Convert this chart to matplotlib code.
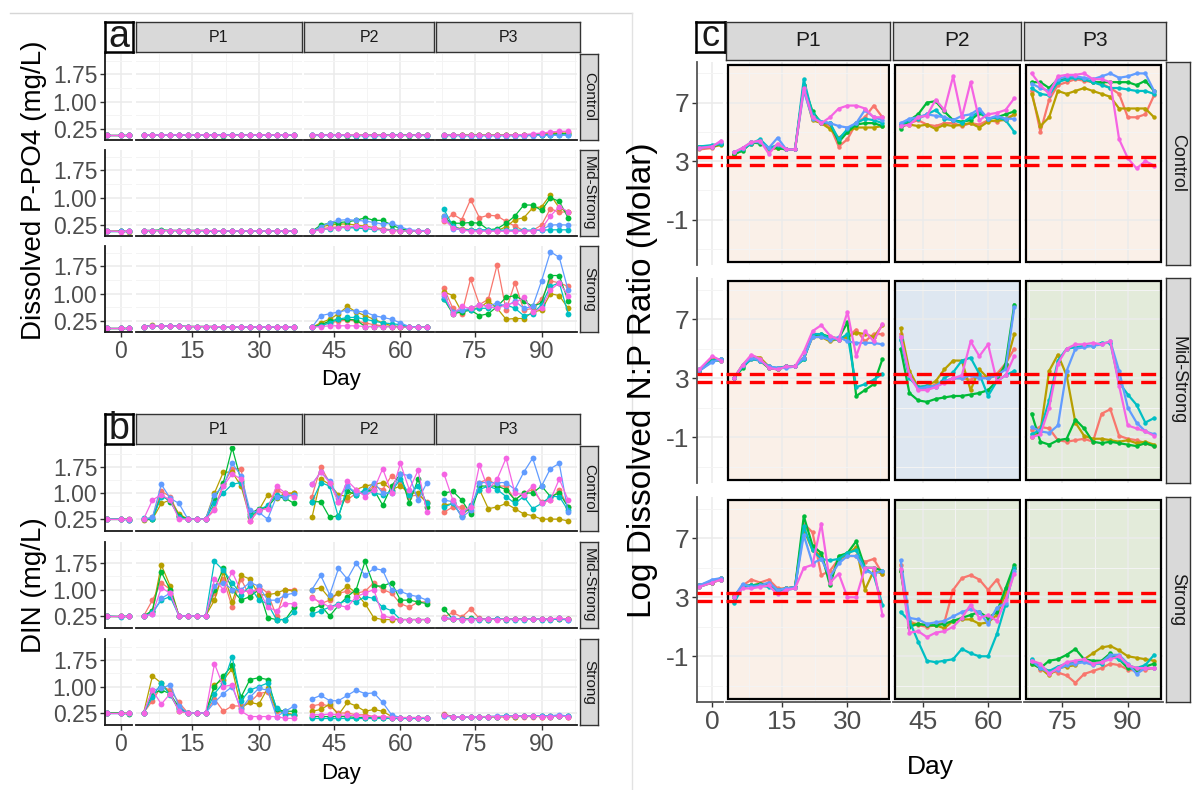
import numpy as np
import matplotlib
matplotlib.use("Agg")
import matplotlib.pyplot as plt
from matplotlib.patches import Rectangle
from matplotlib.lines import Line2D

plt.rcParams['font.family'] = ['Liberation Sans', 'DejaVu Sans']

W, H, DPI = 1192, 790, 100

# sampling days (pre | P1 | P2 | P3)
DAYS = [-3, 0, 2,
        4, 6, 8, 10, 12, 14, 16, 18, 20, 22, 24, 26, 28, 30, 32, 34, 36, 38,
        40, 42, 44, 46, 48, 50, 52, 54, 56, 58, 60, 62, 64, 66,
        68, 70, 72, 74, 76, 78, 80, 82, 84, 86, 88, 90, 92, 94, 96]
PERIODS = ["", "P1", "P2", "P3"]
PERIOD_BREAKS = [3, 39, 67]
PERIOD_LIMS = [(-3.5, 2.5), (2.2, 39.8), (38.2, 67.6), (66.2, 98.0)]
TREATMENTS = ["Control", "Mid-Strong", "Strong"]
COLORS = ["#F8766D", "#B79F00", "#00BA38", "#00BFC4", "#619CFF", "#F564E3"]

# ---- panel a: dissolved P-PO4 (mg/L), rows = red, olive, green, cyan, blue, magenta
PO4_CONTROL = [
    [0.09, 0.09, 0.09,
     0.09, 0.09, 0.09, 0.09, 0.09, 0.09, 0.09, 0.09, 0.09, 0.08, 0.08, 0.08, 0.09, 0.09, 0.09, 0.08, 0.09, 0.10,
     0.09, 0.09, 0.08, 0.08, 0.08, 0.08, 0.08, 0.08, 0.08, 0.08, 0.09, 0.09, 0.08, 0.08,
     0.07, 0.08, 0.08, 0.08, 0.08, 0.08, 0.08, 0.08, 0.08, 0.09, 0.10, 0.12, 0.15, 0.17, 0.18],
    [0.09, 0.09, 0.09,
     0.09, 0.09, 0.09, 0.09, 0.09, 0.09, 0.09, 0.09, 0.08, 0.08, 0.09, 0.09, 0.09, 0.09, 0.09, 0.09, 0.09, 0.09,
     0.07, 0.09, 0.09, 0.08, 0.08, 0.08, 0.08, 0.08, 0.08, 0.08, 0.08, 0.09, 0.09, 0.09,
     0.10, 0.08, 0.08, 0.08, 0.08, 0.08, 0.08, 0.08, 0.08, 0.08, 0.09, 0.10, 0.12, 0.13, 0.14],
    [0.09, 0.09, 0.09,
     0.09, 0.09, 0.09, 0.09, 0.09, 0.09, 0.09, 0.09, 0.08, 0.07, 0.08, 0.08, 0.08, 0.08, 0.08, 0.08, 0.09, 0.09,
     0.09, 0.09, 0.08, 0.08, 0.07, 0.07, 0.08, 0.08, 0.08, 0.08, 0.08, 0.07, 0.08, 0.08,
     0.08, 0.08, 0.08, 0.08, 0.08, 0.08, 0.08, 0.08, 0.08, 0.08, 0.08, 0.09, 0.10, 0.12, 0.12],
    [0.09, 0.09, 0.09,
     0.09, 0.09, 0.09, 0.09, 0.09, 0.09, 0.09, 0.09, 0.09, 0.08, 0.08, 0.08, 0.08, 0.08, 0.08, 0.08, 0.08, 0.09,
     0.08, 0.08, 0.08, 0.08, 0.08, 0.07, 0.07, 0.07, 0.07, 0.08, 0.08, 0.08, 0.08, 0.07,
     0.07, 0.07, 0.07, 0.07, 0.07, 0.07, 0.07, 0.07, 0.07, 0.07, 0.08, 0.08, 0.08, 0.09, 0.09],
    [0.09, 0.09, 0.09,
     0.09, 0.09, 0.09, 0.09, 0.09, 0.09, 0.09, 0.09, 0.09, 0.09, 0.09, 0.08, 0.08, 0.08, 0.08, 0.08, 0.09, 0.09,
     0.08, 0.08, 0.08, 0.08, 0.08, 0.08, 0.08, 0.08, 0.08, 0.08, 0.08, 0.08, 0.08, 0.08,
     0.08, 0.08, 0.07, 0.07, 0.07, 0.07, 0.07, 0.07, 0.07, 0.07, 0.07, 0.08, 0.08, 0.08, 0.08],
    [0.09, 0.09, 0.09,
     0.09, 0.09, 0.09, 0.09, 0.09, 0.09, 0.09, 0.09, 0.08, 0.08, 0.08, 0.08, 0.09, 0.09, 0.09, 0.09, 0.09, 0.09,
     0.09, 0.09, 0.09, 0.09, 0.09, 0.08, 0.08, 0.08, 0.08, 0.08, 0.08, 0.08, 0.09, 0.08,
     0.08, 0.09, 0.08, 0.08, 0.08, 0.08, 0.08, 0.08, 0.09, 0.10, 0.12, 0.14, 0.17, 0.19, 0.19],
]
PO4_MID = [
    [0.08, 0.09, 0.08,
     0.10, 0.10, 0.10, 0.10, 0.10, 0.10, 0.10, 0.10, 0.09, 0.09, 0.09, 0.09, 0.09, 0.09, 0.09, 0.09, 0.09, 0.09,
     0.08, 0.15, 0.18, 0.20, 0.20, 0.20, 0.20, 0.18, 0.15, 0.12, 0.10, 0.09, 0.08, 0.08,
     0.35, 0.55, 0.40, 0.95, 0.45, 0.52, 0.50, 0.35, 0.22, 0.10, 0.10, 0.25, 0.70, 0.60, 0.62],
    [0.08, 0.08, 0.07,
     0.09, 0.10, 0.10, 0.10, 0.10, 0.10, 0.10, 0.10, 0.09, 0.09, 0.09, 0.09, 0.10, 0.09, 0.09, 0.09, 0.09, 0.09,
     0.08, 0.20, 0.25, 0.28, 0.28, 0.25, 0.22, 0.18, 0.12, 0.10, 0.10, 0.09, 0.09, 0.09,
     0.50, 0.20, 0.15, 0.12, 0.10, 0.10, 0.10, 0.20, 0.40, 0.45, 0.72, 0.75, 1.08, 0.72, 0.60],
    [0.08, 0.08, 0.08,
     0.10, 0.10, 0.12, 0.10, 0.10, 0.10, 0.10, 0.10, 0.09, 0.09, 0.09, 0.09, 0.09, 0.09, 0.10, 0.09, 0.09, 0.09,
     0.08, 0.25, 0.30, 0.32, 0.34, 0.38, 0.45, 0.38, 0.38, 0.25, 0.15, 0.10, 0.09, 0.09,
     0.45, 0.30, 0.30, 0.32, 0.30, 0.12, 0.15, 0.30, 0.50, 0.80, 0.80, 0.65, 1.00, 0.90, 0.45],
    [0.08, 0.08, 0.08,
     0.10, 0.10, 0.10, 0.10, 0.10, 0.10, 0.10, 0.10, 0.09, 0.09, 0.09, 0.09, 0.09, 0.09, 0.09, 0.09, 0.09, 0.09,
     0.08, 0.12, 0.15, 0.18, 0.18, 0.17, 0.15, 0.13, 0.12, 0.11, 0.10, 0.09, 0.09, 0.09,
     0.68, 0.22, 0.12, 0.12, 0.12, 0.12, 0.11, 0.11, 0.11, 0.11, 0.11, 0.11, 0.12, 0.12, 0.12],
    [0.08, 0.08, 0.08,
     0.10, 0.10, 0.10, 0.10, 0.10, 0.10, 0.10, 0.09, 0.09, 0.09, 0.09, 0.09, 0.09, 0.09, 0.09, 0.09, 0.09, 0.09,
     0.08, 0.20, 0.32, 0.38, 0.40, 0.38, 0.36, 0.32, 0.28, 0.30, 0.20, 0.12, 0.10, 0.10,
     0.50, 0.15, 0.12, 0.10, 0.10, 0.10, 0.09, 0.09, 0.09, 0.09, 0.10, 0.12, 0.25, 0.26, 0.25],
    [0.09, 0.07, 0.09,
     0.10, 0.10, 0.10, 0.10, 0.10, 0.10, 0.10, 0.10, 0.10, 0.09, 0.09, 0.09, 0.09, 0.09, 0.09, 0.09, 0.09, 0.09,
     0.08, 0.12, 0.16, 0.18, 0.20, 0.22, 0.20, 0.16, 0.12, 0.10, 0.09, 0.09, 0.08, 0.08,
     0.40, 0.18, 0.12, 0.08, 0.08, 0.08, 0.08, 0.08, 0.08, 0.08, 0.09, 0.15, 0.50, 0.75, 0.62],
]
PO4_STRONG = [
    [0.07, 0.07, 0.07,
     0.10, 0.12, 0.12, 0.11, 0.11, 0.10, 0.10, 0.10, 0.10, 0.09, 0.09, 0.09, 0.09, 0.09, 0.09, 0.09, 0.09, 0.09,
     0.08, 0.15, 0.20, 0.25, 0.28, 0.25, 0.20, 0.15, 0.12, 0.10, 0.09, 0.08, 0.08, 0.08,
     1.15, 0.60, 0.45, 1.40, 0.70, 0.85, 1.80, 0.55, 1.30, 0.55, 0.60, 0.85, 1.35, 1.30, 1.20],
    [0.07, 0.07, 0.07,
     0.10, 0.13, 0.12, 0.11, 0.11, 0.10, 0.10, 0.10, 0.10, 0.09, 0.09, 0.09, 0.09, 0.09, 0.09, 0.09, 0.09, 0.09,
     0.08, 0.20, 0.30, 0.45, 0.65, 0.50, 0.40, 0.30, 0.20, 0.12, 0.10, 0.09, 0.08, 0.08,
     1.05, 0.95, 0.50, 0.60, 0.60, 0.80, 0.60, 0.30, 0.32, 0.32, 0.50, 0.55, 1.00, 0.95, 0.60],
    [0.07, 0.07, 0.07,
     0.10, 0.12, 0.12, 0.11, 0.11, 0.10, 0.10, 0.10, 0.10, 0.09, 0.09, 0.09, 0.09, 0.09, 0.09, 0.09, 0.09, 0.09,
     0.08, 0.15, 0.25, 0.30, 0.30, 0.28, 0.10, 0.10, 0.10, 0.10, 0.10, 0.09, 0.08, 0.08,
     0.85, 0.45, 0.50, 0.55, 0.40, 0.45, 0.65, 0.90, 0.95, 0.80, 0.65, 0.75, 1.50, 1.50, 0.80],
    [0.07, 0.07, 0.07,
     0.10, 0.12, 0.12, 0.11, 0.11, 0.10, 0.10, 0.10, 0.10, 0.09, 0.09, 0.09, 0.09, 0.09, 0.09, 0.09, 0.09, 0.09,
     0.08, 0.12, 0.20, 0.30, 0.35, 0.35, 0.30, 0.25, 0.20, 0.18, 0.15, 0.10, 0.08, 0.08,
     0.85, 0.50, 0.55, 0.55, 0.60, 0.60, 0.65, 0.70, 0.60, 0.40, 0.45, 0.70, 1.20, 1.30, 0.45],
    [0.07, 0.07, 0.07,
     0.10, 0.12, 0.12, 0.11, 0.11, 0.10, 0.10, 0.10, 0.10, 0.09, 0.09, 0.09, 0.09, 0.09, 0.09, 0.09, 0.09, 0.09,
     0.08, 0.40, 0.45, 0.50, 0.55, 0.52, 0.50, 0.40, 0.35, 0.30, 0.20, 0.10, 0.08, 0.08,
     0.95, 0.50, 0.55, 0.60, 0.70, 0.65, 0.75, 0.65, 0.80, 0.60, 0.65, 1.35, 2.15, 2.00, 1.10],
    [0.07, 0.07, 0.07,
     0.10, 0.12, 0.12, 0.11, 0.11, 0.10, 0.10, 0.10, 0.10, 0.09, 0.09, 0.09, 0.09, 0.09, 0.09, 0.09, 0.09, 0.09,
     0.08, 0.10, 0.12, 0.12, 0.12, 0.12, 0.10, 0.10, 0.10, 0.09, 0.09, 0.08, 0.08, 0.08,
     1.00, 0.45, 0.65, 0.60, 0.70, 0.65, 0.60, 0.70, 0.75, 0.90, 0.50, 0.60, 1.10, 1.30, 0.95],
]

# ---- panel b: DIN (mg/L)
DIN_CONTROL = [
    [0.25, 0.26, 0.24,
     0.25, 0.30, 1.05, 0.90, 0.35, 0.25, 0.25, 0.25, 0.55, 1.25, 1.70, 1.70, 0.20, 0.50, 0.60, 1.10, 0.95, 1.00,
     0.90, 1.75, 1.30, 0.75, 0.80, 1.00, 1.00, 1.20, 1.10, 1.50, 1.30, 0.90, 0.95, 0.75,
     0.45, 0.60, 0.60, 0.45, 1.30, 1.40, 1.20, 1.20, 0.80, 1.00, 1.10, 0.75, 0.80, 1.10, 0.60],
    [0.25, 0.25, 0.24,
     0.22, 0.25, 0.70, 0.80, 0.40, 0.25, 0.25, 0.25, 1.00, 1.60, 1.60, 1.20, 0.30, 0.50, 0.95, 0.85, 1.00, 1.00,
     0.30, 1.40, 1.25, 0.95, 0.90, 1.10, 1.20, 1.25, 1.30, 1.10, 1.20, 1.00, 1.00, 0.70,
     0.65, 0.70, 0.35, 0.60, 1.10, 0.55, 0.60, 0.70, 0.55, 0.40, 0.35, 0.25, 0.25, 0.25, 0.20],
    [0.25, 0.25, 0.25,
     0.25, 0.25, 0.95, 0.75, 0.35, 0.25, 0.25, 0.25, 0.85, 1.30, 2.30, 1.35, 0.40, 0.55, 0.60, 0.90, 0.85, 0.70,
     0.75, 0.75, 0.30, 0.35, 1.05, 0.95, 1.05, 1.10, 0.65, 1.20, 1.55, 0.70, 1.40, 0.60,
     1.00, 1.05, 0.80, 0.40, 1.20, 1.20, 1.20, 1.10, 0.80, 1.00, 1.00, 1.20, 0.90, 1.00, 0.60],
    [0.25, 0.25, 0.24,
     0.28, 0.25, 0.90, 0.80, 0.30, 0.25, 0.25, 0.25, 0.70, 1.00, 1.25, 1.30, 0.35, 0.50, 0.65, 0.95, 0.90, 0.95,
     0.75, 1.30, 1.20, 0.30, 1.20, 0.95, 1.10, 1.00, 0.95, 1.05, 1.40, 0.95, 1.20, 0.70,
     0.60, 0.70, 0.35, 0.65, 1.10, 1.20, 1.10, 0.90, 0.70, 0.90, 0.55, 0.70, 0.90, 0.90, 0.50],
    [0.25, 0.25, 0.22,
     0.25, 0.30, 1.25, 0.85, 0.70, 0.25, 0.25, 0.25, 0.95, 1.20, 1.85, 1.50, 0.50, 0.45, 0.25, 0.90, 0.90, 0.95,
     1.25, 1.60, 1.35, 0.85, 1.20, 1.00, 1.00, 1.30, 1.00, 1.00, 1.55, 1.50, 0.80, 1.30,
     0.80, 0.75, 0.30, 0.50, 1.30, 1.30, 1.30, 1.30, 1.10, 1.60, 2.00, 1.20, 1.70, 1.85, 0.45],
    [0.25, 0.25, 0.25,
     0.25, 0.80, 0.95, 0.80, 0.25, 0.25, 0.25, 0.25, 0.50, 1.20, 1.55, 1.40, 0.20, 0.50, 0.55, 1.20, 1.00, 0.90,
     1.25, 1.60, 1.30, 0.75, 1.35, 1.10, 0.90, 1.10, 1.70, 1.00, 1.85, 1.10, 1.65, 0.45,
     1.55, 0.80, 0.45, 0.60, 1.80, 1.10, 1.40, 2.00, 1.00, 0.95, 1.20, 0.70, 0.80, 1.40, 0.80],
]
DIN_MID = [
    [0.25, 0.25, 0.25,
     0.25, 0.70, 1.20, 1.00, 0.25, 0.25, 0.25, 0.25, 0.90, 1.30, 0.50, 1.30, 0.80, 1.10, 0.90, 0.25, 1.00, 1.00,
     0.80, 0.60, 0.70, 0.90, 0.95, 0.90, 0.95, 1.20, 1.00, 0.90, 0.60, 0.50, 0.65, 0.65,
     0.22, 0.35, 0.22, 0.45, 0.18, 0.16, 0.16, 0.15, 0.16, 0.16, 0.16, 0.16, 0.16, 0.18, 0.16],
    [0.25, 0.25, 0.25,
     0.25, 0.40, 1.70, 1.10, 0.25, 0.25, 0.25, 0.25, 0.70, 1.50, 0.65, 1.40, 1.30, 0.85, 0.85, 0.90, 1.00, 0.95,
     1.00, 1.05, 0.75, 0.90, 1.10, 0.90, 0.60, 0.20, 0.15, 0.15, 0.15, 0.15, 0.15, 0.15,
     0.18, 0.16, 0.16, 0.16, 0.16, 0.15, 0.16, 0.16, 0.16, 0.16, 0.16, 0.16, 0.16, 0.16, 0.16],
    [0.25, 0.25, 0.25,
     0.25, 0.40, 1.50, 1.00, 0.25, 0.25, 0.25, 0.25, 1.00, 1.60, 1.00, 0.70, 0.80, 1.00, 0.20, 0.15, 0.15, 0.50,
     0.45, 0.55, 0.25, 0.55, 0.80, 1.00, 1.80, 1.10, 1.10, 1.20, 0.70, 0.70, 0.65, 0.60,
     0.45, 0.16, 0.16, 0.18, 0.16, 0.16, 0.16, 0.16, 0.16, 0.17, 0.16, 0.16, 0.16, 0.18, 0.16],
    [0.25, 0.23, 0.25,
     0.25, 0.35, 0.70, 0.80, 0.25, 0.25, 0.25, 0.25, 1.80, 1.55, 1.20, 0.85, 1.10, 0.70, 0.60, 0.15, 0.15, 0.35,
     0.30, 0.40, 0.50, 0.60, 0.70, 0.65, 0.80, 0.75, 0.50, 0.40, 0.15, 0.15, 0.15, 0.15,
     0.20, 0.16, 0.15, 0.15, 0.15, 0.15, 0.16, 0.15, 0.15, 0.15, 0.16, 0.15, 0.15, 0.16, 0.14],
    [0.25, 0.25, 0.25,
     0.25, 0.30, 0.75, 0.90, 0.25, 0.25, 0.25, 0.25, 1.10, 1.20, 1.00, 1.00, 1.20, 1.10, 0.70, 0.70, 0.85, 0.90,
     1.00, 1.40, 0.85, 1.60, 1.30, 1.75, 1.40, 1.60, 1.55, 1.00, 0.95, 0.85, 0.80, 0.70,
     0.20, 0.18, 0.16, 0.16, 0.16, 0.16, 0.16, 0.16, 0.16, 0.16, 0.17, 0.16, 0.16, 0.18, 0.15],
    [0.25, 0.25, 0.25,
     0.25, 0.30, 1.05, 0.90, 0.25, 0.25, 0.25, 0.25, 1.30, 1.00, 1.50, 0.95, 0.95, 1.00, 0.50, 0.40, 0.60, 0.60,
     0.75, 0.65, 0.50, 0.55, 0.50, 0.80, 0.90, 1.00, 0.25, 0.20, 0.15, 0.15, 0.15, 0.15,
     0.18, 0.16, 0.15, 0.15, 0.16, 0.16, 0.15, 0.16, 0.16, 0.16, 0.16, 0.16, 0.17, 0.19, 0.16],
]
DIN_STRONG = [
    [0.25, 0.25, 0.24,
     0.25, 0.60, 1.00, 0.90, 0.55, 0.25, 0.25, 0.25, 0.65, 0.30, 0.45, 0.45, 0.55, 0.80, 0.85, 0.30, 0.25, 0.20,
     0.45, 0.50, 0.45, 0.25, 0.25, 0.20, 0.20, 0.15, 0.15, 0.12, 0.12, 0.12, 0.12, 0.12,
     0.22, 0.15, 0.14, 0.14, 0.14, 0.14, 0.14, 0.15, 0.15, 0.15, 0.15, 0.15, 0.15, 0.16, 0.15],
    [0.25, 0.25, 0.24,
     0.25, 1.30, 1.10, 0.80, 0.30, 0.25, 0.25, 0.25, 1.05, 1.20, 1.50, 0.40, 0.55, 0.50, 0.95, 0.35, 0.25, 0.20,
     0.30, 0.35, 0.50, 0.20, 0.55, 0.45, 0.30, 0.35, 0.30, 0.15, 0.12, 0.12, 0.12, 0.12,
     0.18, 0.15, 0.14, 0.14, 0.14, 0.14, 0.15, 0.14, 0.15, 0.16, 0.16, 0.15, 0.16, 0.16, 0.15],
    [0.25, 0.25, 0.22,
     0.25, 0.80, 0.90, 0.80, 0.40, 0.25, 0.25, 0.25, 1.00, 1.30, 1.60, 0.70, 1.20, 1.25, 1.20, 0.35, 0.30, 0.30,
     0.15, 0.15, 0.15, 0.15, 0.15, 0.12, 0.12, 0.12, 0.12, 0.12, 0.12, 0.12, 0.12, 0.12,
     0.18, 0.15, 0.14, 0.14, 0.15, 0.15, 0.15, 0.16, 0.16, 0.16, 0.17, 0.16, 0.15, 0.16, 0.16],
    [0.25, 0.25, 0.25,
     0.25, 0.70, 1.10, 0.75, 0.35, 0.25, 0.25, 0.25, 0.80, 1.10, 1.85, 0.60, 0.90, 1.00, 1.10, 0.40, 0.20, 0.20,
     0.12, 0.12, 0.12, 0.12, 0.12, 0.12, 0.12, 0.12, 0.12, 0.12, 0.12, 0.12, 0.12, 0.12,
     0.16, 0.14, 0.14, 0.14, 0.14, 0.15, 0.15, 0.16, 0.16, 0.16, 0.16, 0.17, 0.16, 0.17, 0.16],
    [0.25, 0.25, 0.25,
     0.25, 0.90, 0.95, 1.05, 0.45, 0.25, 0.25, 0.25, 0.55, 0.80, 1.00, 0.35, 0.70, 0.95, 0.90, 0.15, 0.30, 0.45,
     0.65, 0.75, 0.60, 0.60, 0.75, 0.90, 0.80, 0.82, 0.55, 0.20, 0.12, 0.12, 0.12, 0.12,
     0.17, 0.14, 0.14, 0.14, 0.14, 0.15, 0.16, 0.16, 0.16, 0.17, 0.17, 0.16, 0.17, 0.20, 0.16],
    [0.25, 0.25, 0.25,
     0.25, 0.90, 0.50, 0.80, 0.30, 0.25, 0.25, 0.25, 1.65, 1.00, 1.05, 0.30, 0.15, 0.15, 0.15, 0.15, 0.10, 0.10,
     0.20, 0.20, 0.22, 0.20, 0.18, 0.18, 0.15, 0.15, 0.15, 0.12, 0.12, 0.12, 0.12, 0.12,
     0.20, 0.14, 0.14, 0.14, 0.14, 0.15, 0.15, 0.15, 0.16, 0.16, 0.16, 0.15, 0.15, 0.16, 0.15],
]

# ---- panel c: log dissolved N:P ratio (molar)
NP_CONTROL = [
    [3.8, 3.9, 4.2,
     3.5, 3.9, 4.2, 4.4, 3.8, 3.9, 3.8, 3.8, 8.2, 6.0, 5.6, 5.4, 4.0, 4.5, 5.6, 6.0, 6.8, 6.0,
     5.5, 5.6, 5.8, 5.5, 5.4, 5.6, 5.6, 5.4, 5.6, 5.5, 5.8, 5.7, 5.9, 6.2,
     7.8, 5.0, 7.2, 8.2, 8.4, 8.6, 8.5, 8.4, 8.3, 8.0, 7.6, 6.0, 6.0, 6.2, 7.5],
    [3.9, 4.0, 4.1,
     3.4, 3.8, 4.2, 4.3, 3.8, 3.9, 3.8, 3.8, 8.0, 5.8, 5.6, 5.2, 4.6, 5.0, 5.3, 5.3, 5.3, 5.4,
     5.4, 5.5, 5.4, 5.5, 5.2, 5.5, 5.4, 5.5, 5.6, 5.3, 5.7, 5.8, 5.8, 6.2,
     7.6, 5.4, 6.0, 7.8, 7.6, 7.8, 8.0, 7.8, 7.6, 7.4, 6.6, 6.6, 6.6, 6.6, 6.0],
    [4.0, 4.0, 4.2,
     3.5, 3.7, 4.3, 4.2, 3.9, 3.9, 3.8, 3.8, 8.2, 6.4, 5.6, 5.6, 4.3, 5.0, 5.5, 5.6, 5.6, 5.4,
     5.2, 5.8, 6.2, 7.0, 7.1, 6.4, 5.8, 5.7, 5.8, 6.3, 5.9, 6.0, 6.2, 6.4,
     8.4, 8.4, 8.0, 8.6, 8.6, 8.8, 8.6, 8.4, 8.4, 8.4, 8.4, 8.4, 8.2, 8.5, 7.8],
    [4.0, 4.1, 4.2,
     3.6, 3.8, 4.2, 4.5, 3.9, 4.1, 3.8, 3.8, 8.6, 6.2, 5.7, 5.6, 4.5, 5.2, 5.6, 5.9, 5.8, 5.6,
     5.5, 5.8, 5.9, 6.2, 6.5, 5.9, 5.8, 5.6, 6.0, 6.4, 5.9, 6.0, 5.8, 5.0,
     8.0, 7.6, 7.5, 8.4, 8.6, 8.7, 8.6, 8.4, 8.2, 8.0, 8.0, 7.9, 7.8, 7.8, 7.6],
    [3.9, 4.0, 4.3,
     3.6, 3.9, 4.3, 4.3, 3.9, 4.6, 3.8, 3.8, 7.8, 5.9, 5.7, 5.6, 5.4, 5.3, 5.6, 6.5, 6.0, 5.8,
     5.6, 5.9, 6.0, 6.2, 6.1, 6.0, 5.8, 6.1, 6.2, 6.6, 5.9, 6.1, 5.9, 5.9,
     8.3, 8.0, 7.8, 8.6, 8.8, 8.8, 8.7, 8.6, 8.8, 9.0, 8.7, 8.8, 9.0, 9.0, 7.8],
    [3.9, 4.0, 4.4,
     3.6, 3.9, 4.3, 4.4, 3.5, 4.2, 3.8, 3.8, 8.0, 6.0, 5.6, 6.0, 6.6, 6.8, 6.8, 6.6, 6.0, 6.0,
     5.4, 5.5, 6.0, 6.1, 7.2, 6.5, 8.8, 6.0, 8.4, 5.8, 6.2, 6.3, 6.5, 7.3,
     9.0, 8.2, 7.6, 8.8, 8.9, 8.9, 9.0, 8.6, 8.6, 8.4, 4.5, 3.2, 2.5, 3.0, 2.7],
]
NP_MID = [
    [3.5, 4.2, 4.3,
     3.0, 3.8, 4.3, 4.2, 3.7, 3.7, 3.8, 3.8, 4.4, 6.0, 5.9, 5.7, 5.6, 5.8, 6.3, 5.5, 6.0, 6.0,
     6.0, 3.2, 2.4, 2.3, 2.6, 2.8, 3.0, 3.0, 2.9, 3.2, 3.0, 3.3, 4.0, 5.0,
     -0.5, -0.3, -0.4, -1.2, -1.3, -1.2, -1.1, -1.3, 0.6, 0.9, -0.9, -1.1, -1.2, -1.4, -1.6],
    [3.5, 4.3, 4.3,
     3.0, 3.9, 4.5, 4.4, 3.8, 3.6, 3.8, 3.8, 4.4, 5.8, 5.8, 5.5, 5.7, 5.8, 6.1, 6.0, 5.8, 6.6,
     6.4, 3.5, 2.4, 2.5, 2.8, 3.6, 4.2, 4.2, 2.2, 3.6, 3.0, 3.2, 3.8, 6.0,
     -1.0, -0.6, 3.5, 4.6, 3.2, 0.0, -0.9, -1.1, -1.1, -1.2, -1.3, -1.2, -1.4, -1.3, -1.5],
    [3.5, 4.2, 4.2,
     3.0, 3.7, 4.4, 4.2, 3.7, 3.6, 3.8, 3.8, 4.3, 5.9, 6.0, 5.8, 5.7, 6.8, 1.8, 2.2, 2.6, 4.3,
     5.0, 2.0, 1.5, 1.4, 1.6, 1.7, 1.8, 1.8, 1.9, 2.0, 2.2, 2.8, 4.0, 8.0,
     0.6, -1.3, -1.5, -1.2, -1.1, 0.2, -0.4, -1.3, -1.4, -1.3, -1.4, -1.5, -1.6, -1.4, -1.6],
    [3.6, 4.2, 4.3,
     3.0, 3.8, 4.3, 4.2, 3.8, 3.7, 3.8, 3.8, 4.3, 6.0, 6.0, 5.7, 5.6, 6.0, 2.4, 2.6, 2.9, 3.3,
     5.6, 3.0, 2.4, 2.5, 2.4, 3.0, 3.4, 4.2, 4.4, 3.3, 1.8, 2.8, 3.2, 3.5,
     -0.8, -0.5, 1.5, 4.2, 5.0, 5.1, 5.2, 5.2, 5.4, 5.4, 2.7, 1.9, 1.2, 0.0, 0.3],
    [3.5, 4.1, 4.3,
     3.0, 3.9, 4.4, 4.2, 3.8, 3.7, 3.7, 3.8, 4.4, 5.8, 5.8, 5.6, 5.8, 5.5, 5.4, 5.4, 5.4, 5.3,
     5.8, 3.2, 2.3, 2.4, 2.5, 2.8, 3.0, 3.0, 3.2, 3.0, 3.0, 3.2, 3.6, 7.8,
     -0.3, -0.6, -0.7, -0.2, 3.5, 5.0, 5.1, 5.2, 5.3, 5.5, 3.5, 1.0, 0.0, -0.6, -0.8],
    [3.6, 4.5, 4.2,
     3.0, 3.9, 4.6, 4.3, 3.7, 3.6, 3.8, 3.8, 4.8, 6.2, 6.6, 5.9, 5.6, 7.5, 4.5, 6.2, 5.5, 6.7,
     5.8, 3.2, 2.2, 2.2, 2.4, 2.7, 3.0, 3.2, 5.5, 4.5, 5.3, 2.8, 3.2, 4.5,
     -1.0, -0.8, 1.0, 4.0, 5.0, 5.3, 5.3, 5.4, 5.3, 5.5, 2.5, -0.2, -0.4, -0.6, -0.9],
]
NP_STRONG = [
    [3.8, 4.1, 4.3,
     3.0, 3.8, 4.2, 4.0, 4.2, 3.6, 3.6, 3.7, 8.0, 7.4, 4.5, 4.8, 5.6, 5.8, 5.8, 5.4, 5.6, 4.6,
     5.2, 1.4, 1.1, 1.0, 1.1, 1.3, 3.5, 4.3, 4.5, 4.2, 3.5, 4.2, 3.0, 5.0,
     -1.3, -1.9, -2.0, -2.1, -2.3, -2.8, -2.2, -2.0, -1.8, -1.5, -1.6, -1.9, -2.0, -1.9, -1.8],
    [3.8, 4.0, 4.2,
     3.1, 3.7, 3.8, 3.9, 3.8, 3.5, 3.6, 3.7, 7.6, 6.2, 5.8, 4.2, 5.6, 5.9, 6.4, 3.5, 4.8, 4.6,
     4.8, 1.2, 1.2, 1.1, 1.1, 0.9, 1.4, 1.5, 1.5, 1.2, 1.3, 1.8, 3.2, 5.0,
     -1.5, -1.8, -2.3, -1.8, -1.7, -1.6, -1.2, -0.8, -0.4, -0.3, -0.6, -1.0, -1.1, -1.2, -1.3],
    [3.7, 4.0, 4.3,
     3.0, 3.8, 3.8, 3.9, 3.9, 3.5, 3.6, 3.7, 8.5, 6.5, 6.0, 3.8, 5.8, 6.0, 6.8, 5.0, 5.0, 4.8,
     4.8, 1.0, 1.2, 1.1, 1.1, 1.2, 1.4, 1.6, 1.8, 2.0, 1.6, 2.0, 3.6, 5.2,
     -1.5, -1.8, -1.3, -1.2, -0.9, -0.5, -1.2, -1.3, -1.3, -0.8, -1.2, -1.8, -1.9, -1.7, -1.5],
    [3.8, 4.1, 4.2,
     2.6, 3.7, 3.8, 3.8, 3.7, 3.4, 3.5, 3.6, 7.8, 6.2, 5.6, 5.5, 5.6, 6.0, 6.2, 5.0, 4.5, 2.5,
     2.0, 1.4, 0.0, -1.3, -1.4, -1.3, -1.2, -0.5, -0.8, -1.0, -1.0, 0.5, 2.5, 5.0,
     -1.2, -1.7, -2.0, -1.7, -1.5, -1.4, -1.3, -1.5, -1.5, -1.0, -1.2, -1.6, -1.8, -1.6, -0.9],
    [3.8, 4.2, 4.3,
     3.0, 3.9, 3.7, 3.8, 4.0, 3.5, 3.6, 3.7, 7.2, 5.3, 5.6, 4.4, 5.3, 5.8, 5.8, 4.8, 4.6, 4.8,
     5.5, 1.6, 1.5, 1.2, 1.3, 1.4, 1.7, 2.0, 2.2, 2.0, 1.2, 2.3, 2.6, 4.8,
     -1.3, -1.8, -2.1, -1.9, -1.6, -1.5, -1.4, -1.6, -1.4, -0.9, -0.9, -1.5, -2.2, -1.8, -1.8],
    [3.7, 4.0, 4.2,
     3.0, 3.6, 3.6, 3.7, 3.8, 3.2, 3.5, 3.6, 5.0, 5.2, 8.0, 4.0, 4.6, 3.0, 3.0, 5.0, 5.0, 1.8,
     4.9, 0.6, 0.7, 0.3, 0.6, 0.7, 1.0, 1.6, 2.5, 1.6, 1.8, 1.4, 2.8, 4.6,
     -1.3, -1.5, -2.2, -1.8, -1.4, -1.3, -1.2, -1.5, -1.4, -1.2, -1.0, -1.6, -1.8, -1.8, -1.8],
]
NP_REFERENCE = [2.77, 3.27]
# background shading of panel c, per treatment row, for P1..P3
NP_SHADE = [["orange", "orange", "orange"],
            ["orange", "blue", "green"],
            ["orange", "green", "green"]]
SHADE_COLORS = {"orange": "#FAF0E8", "blue": "#DEE7F1", "green": "#E3EBDA"}

for block in (PO4_CONTROL, PO4_MID, PO4_STRONG, DIN_CONTROL, DIN_MID, DIN_STRONG,
              NP_CONTROL, NP_MID, NP_STRONG):
    for row in block:
        assert len(row) == len(DAYS), len(row)


def px_rect(x0, y0, x1, y1):
    return [x0 / W, 1 - y1 / H, (x1 - x0) / W, (y1 - y0) / H]


def add_box(fig, box, face, edge, lw, text=None, fs=10, rot=0):
    ax = fig.add_axes(px_rect(*box))
    ax.set_facecolor(face)
    ax.set_xticks([])
    ax.set_yticks([])
    for sp in ax.spines.values():
        sp.set_color(edge)
        sp.set_linewidth(lw)
    if text:
        ax.text(0.5, 0.5, text, ha='center', va='center', rotation=rot,
                fontsize=fs, color='#1A1A1A', transform=ax.transAxes)
    return ax


days = np.array(DAYS)
period = np.digitize(days, PERIOD_BREAKS)


def facet_block(fig, blocks, cols, rows, ylim, yticks, ylabels, yminor,
                lw, ms, tick_fs, spine_col, shaded=False):
    for r, (y0, y1) in enumerate(rows):
        vals = np.array(blocks[r], dtype=float)
        last = r == len(rows) - 1
        for c, (x0, x1) in enumerate(cols):
            ax = fig.add_axes(px_rect(x0, y0, x1, y1))
            lo, hi = PERIOD_LIMS[c]
            ax.set_xlim(lo, hi)
            ax.set_ylim(*ylim)
            first = np.ceil(lo / 7.5) * 7.5 + 0.0
            xt = [t + 0.0 for t in np.arange(first, hi, 7.5)]
            major = [t for t in xt if t % 15 == 0]
            ax.set_xticks(major)
            ax.set_xticks([t for t in xt if t % 15 != 0], minor=True)
            ax.set_xticklabels([f"{abs(t):.0f}" if t == 0 else f"{t:.0f}" for t in major])
            ax.set_yticks(yticks)
            ax.set_yticklabels(ylabels)
            ax.set_yticks(yminor, minor=True)
            ax.set_axisbelow(True)
            ax.grid(which='major', color='#EBEBEB', lw=1.1)
            ax.grid(which='minor', color='#F4F4F4', lw=0.7)
            ax.tick_params(which='minor', length=0)
            ax.tick_params(which='major', length=3.5, width=1, color='#333333',
                           labelcolor='#4D4D4D', labelsize=tick_fs, pad=2)
            ax.tick_params(axis='y', left=(c == 0), labelleft=(c == 0))
            ax.tick_params(axis='x', bottom=last, labelbottom=last)
            for side in ('top', 'right'):
                ax.spines[side].set_visible(False)
            ax.spines['left'].set_visible(c == 0)
            ax.spines['bottom'].set_visible((not shaded) or last)
            for side in ('left', 'bottom'):
                ax.spines[side].set_color(spine_col)
                ax.spines[side].set_linewidth(1.3)

            if shaded:
                if c > 0:
                    shade = SHADE_COLORS[NP_SHADE[r][c - 1]]
                    ax.add_patch(Rectangle((lo + 0.4, -3.9), hi - lo - 0.8, 13.5,
                                           facecolor=shade, edgecolor='none', zorder=0.3))
                    ax.add_patch(Rectangle((lo + 0.4, -3.9), hi - lo - 0.8, 13.5,
                                           facecolor='none', edgecolor='black', lw=1.6, zorder=1))
                for ref in NP_REFERENCE:
                    ax.axhline(ref, color='#FF0000', lw=2.4, ls=(0, (4.5, 2.5)), zorder=3)

            sel = period == c
            for s in range(len(COLORS)):
                ax.plot(days[sel], vals[s][sel], '-o', color=COLORS[s], lw=lw,
                        ms=ms, mew=0, zorder=2)


fig = plt.figure(figsize=(W / DPI, H / DPI), dpi=DPI)

# faint frame around the left half
fig.add_artist(Line2D([10 / W, 632 / W], [1 - 13 / H, 1 - 13 / H], color='#D6D6D6', lw=1))
fig.add_artist(Line2D([632 / W, 632 / W], [1 - 13 / H, 0], color='#E2E2E2', lw=1))

# ---- panels a and b
AB_COLS = [(105, 131.6), (135.6, 302.2), (304, 434), (436, 577)]
A_ROWS = [(54, 140), (150, 236), (246, 332)]
B_ROWS = [(446, 531), (542, 628), (639, 725)]
ab_ticks = [0.25, 1.00, 1.75]
ab_labels = ["0.25", "1.00", "1.75"]
ab_minor = [0.625, 1.375, 2.125]

for letter, blocks, rows, ylim, strip_y, ylab, ylab_y, day_y in (
        ("a", [PO4_CONTROL, PO4_MID, PO4_STRONG], A_ROWS, (-0.05, 2.31), (22, 52),
         "Dissolved P-PO4 (mg/L)", 190, 380),
        ("b", [DIN_CONTROL, DIN_MID, DIN_STRONG], B_ROWS, (-0.09, 2.35), (414, 444),
         "DIN (mg/L)", 585, 773)):
    facet_block(fig, blocks, AB_COLS, rows, ylim, ab_ticks, ab_labels, ab_minor,
                lw=0.9, ms=4.2, tick_fs=16.5, spine_col='#1A1A1A')
    add_box(fig, (AB_COLS[0][0], strip_y[0], AB_COLS[0][1] + 1, strip_y[1]), 'white', 'black', 1.8,
            letter, fs=27)
    for c in range(1, 4):
        x0, x1 = AB_COLS[c]
        add_box(fig, (x0, strip_y[0], x1 + (3 if c == 3 else 0), strip_y[1]), '#D9D9D9', '#333333', 1.0,
                PERIODS[c], fs=11.5)
    for r, (y0, y1) in enumerate(rows):
        add_box(fig, (580, y0, 598, y1), '#D9D9D9', '#333333', 1.0, TREATMENTS[r], fs=11, rot=-90)
    fig.text(34 / W, 1 - ylab_y / H, ylab, rotation=90, ha='center', va='center', fontsize=20)
    fig.text(341 / W, 1 - day_y / H, "Day", ha='center', va='center', fontsize=16)

# ---- panel c
C_COLS = [(697, 723.2), (726, 890.3), (892.8, 1021.3), (1023.8, 1162.8)]
C_ROWS = [(61.7, 265), (278, 483), (497, 702)]
facet_block(fig, [NP_CONTROL, NP_MID, NP_STRONG], C_COLS, C_ROWS, (-4.1, 9.8),
            [-1, 3, 7], ["-1", "3", "7"], [-3, 1, 5, 9],
            lw=1.6, ms=3.2, tick_fs=19, spine_col='#555555', shaded=True)
add_box(fig, (696, 22, 725, 52), 'white', 'black', 1.8, "c", fs=26)
for c in range(1, 4):
    x0, x1 = C_COLS[c]
    add_box(fig, (x0, 22, x1 + (3 if c == 3 else 0), 60), '#D9D9D9', '#333333', 1.0, PERIODS[c], fs=15)
for r, (y0, y1) in enumerate(C_ROWS):
    add_box(fig, (1166, y0, 1190, y1), '#D9D9D9', '#333333', 1.0, TREATMENTS[r], fs=13, rot=-90)
fig.text(643 / W, 1 - 380 / H, "Log Dissolved N:P Ratio (Molar)", rotation=90,
         ha='center', va='center', fontsize=24)
fig.text(930 / W, 1 - 767 / H, "Day", ha='center', va='center', fontsize=19)

fig.savefig("out.png", dpi=DPI)
